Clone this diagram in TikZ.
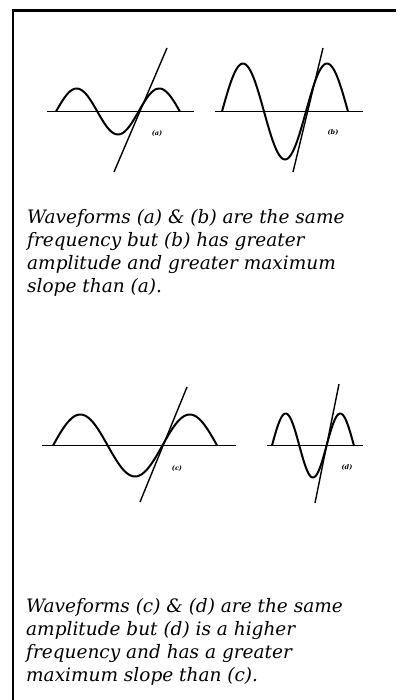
\documentclass[tikz,border=0pt]{standalone}
\usepackage{fontspec}
\setmainfont{DejaVu Serif}
\usetikzlibrary{positioning}

\begin{document}
\begin{tikzpicture}[x=1pt, y=-1pt,
    wave/.style={line width=2pt, line join=round},
    axis/.style={line width=1.6pt},
    slope/.style={line width=1.4pt},
    tag/.style={font=\bfseries\fontsize{6.5}{6.5}\selectfont\itshape, inner sep=0pt},
    caption/.style={anchor=north west, align=left, inner sep=0pt,
        font=\itshape\fontsize{18.5}{23}\selectfont}]
    % Rahmen: nur oben und links
    \useasboundingbox (0,0) rectangle (396,700);
    \draw[line width=2.4pt] (13,700) -- (13,10.5) -- (396,10.5);

    % Kurve (a)
    \draw[axis] (47,111.5) -- (194,111.5);
    \draw[wave] plot[domain=56:180, samples=80, smooth] (\x, {111.5-23*sin((\x-56)/41.3*180)});
    \draw[slope] (114,172) -- (167,48);
    \node[tag] (taga) at (157,134) {(a)};

    % Kurve (b)
    \draw[axis] (215,111.5) -- (363,111.5);
    \draw[wave] plot[domain=222:348, samples=80, smooth] (\x, {111.5-48*sin((\x-222)/42*180)});
    \draw[slope] (293,172) -- (323,48);
    \node[tag] (tagb) at (333,133) {(b)};

    % Text 1
    \node[caption] (texta) at (27,209) {Waveforms (a) \& (b) are the same\\
        frequency but (b) has greater\\
        amplitude and greater maximum\\
        slope than (a).};

    % Kurve (c)
    \draw[axis] (42,445.5) -- (236,445.5);
    \draw[wave] plot[domain=53:217, samples=100, smooth] (\x, {445.5-31*sin((\x-53)/54.7*180)});
    \draw[slope] (140,502) -- (187,387);
    \node[tag] (tagc) at (177,469) {(c)};

    % Kurve (d)
    \draw[axis] (267,445.5) -- (363,445.5);
    \draw[wave] plot[domain=272:354, samples=80, smooth] (\x, {445.5-32*sin((\x-272)/27.3*180)});
    \draw[slope] (315,503) -- (339,384);
    \node[tag] (tagd) at (347,468) {(d)};

    % Text 2
    \node[caption] (textc) at (26,598) {Waveforms (c) \& (d) are the same\\
        amplitude but (d) is a higher\\
        frequency and has a greater\\
        maximum slope than (c).};
\end{tikzpicture}
\end{document}
